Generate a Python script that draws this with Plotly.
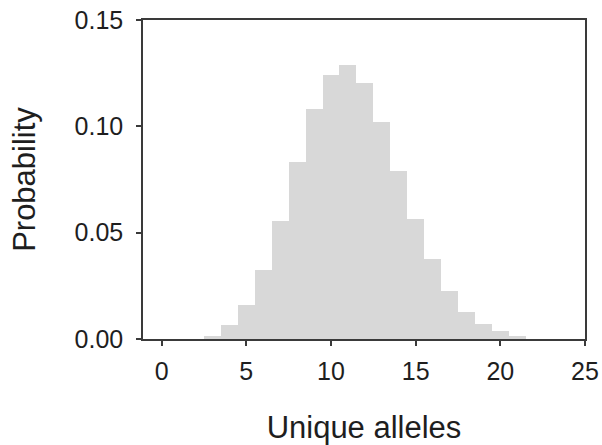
import plotly.graph_objects as go

# Distribution of the number of unique alleles
unique_alleles = [3, 4, 5, 6, 7, 8, 9, 10, 11, 12, 13, 14, 15, 16, 17, 18, 19, 20, 21]
probability = [0.0015, 0.0064, 0.0158, 0.0326, 0.0557, 0.0830, 0.1080, 0.1243,
               0.1288, 0.1203, 0.1020, 0.0791, 0.0564, 0.0374, 0.0226, 0.0127,
               0.0069, 0.0036, 0.0016]

x_ticks = [0, 5, 10, 15, 20, 25]
y_ticks = [0.00, 0.05, 0.10, 0.15]
y_tick_text = ["0.00", "0.05", "0.10", "0.15"]

FONT = "Liberation Sans, Arial, sans-serif"
AXIS = "#3a3a3a"

fig = go.Figure(
    go.Bar(
        x=unique_alleles,
        y=probability,
        width=1,
        marker=dict(color="#d8d8d8", line=dict(width=0)),
    )
)

fig.update_layout(
    width=602,
    height=445,
    margin=dict(l=143, r=17, t=20, b=106),
    paper_bgcolor="white",
    plot_bgcolor="white",
    bargap=0,
    showlegend=False,
    font=dict(family=FONT, color="#1e1e1e"),
)

fig.update_xaxes(
    range=[-1.1, 25],
    tickvals=x_ticks,
    ticks="outside",
    ticklen=5,
    tickwidth=1.5,
    tickcolor=AXIS,
    tickfont=dict(size=25),
    ticklabelstandoff=4,
    showline=True,
    linecolor=AXIS,
    linewidth=1.5,
    mirror=True,
    showgrid=False,
    zeroline=False,
    automargin=False,
    title=dict(text="Unique alleles", font=dict(size=31), standoff=34),
)

fig.update_yaxes(
    range=[0, 0.15],
    tickvals=y_ticks,
    ticktext=y_tick_text,
    ticks="outside",
    ticklen=5,
    tickwidth=1.5,
    tickcolor=AXIS,
    tickfont=dict(size=25),
    ticklabelstandoff=8,
    showline=True,
    linecolor=AXIS,
    linewidth=1.5,
    mirror=True,
    showgrid=False,
    zeroline=False,
    automargin=False,
    title=dict(text="Probability", font=dict(size=31), standoff=30),
)

fig.write_html("out.html")
